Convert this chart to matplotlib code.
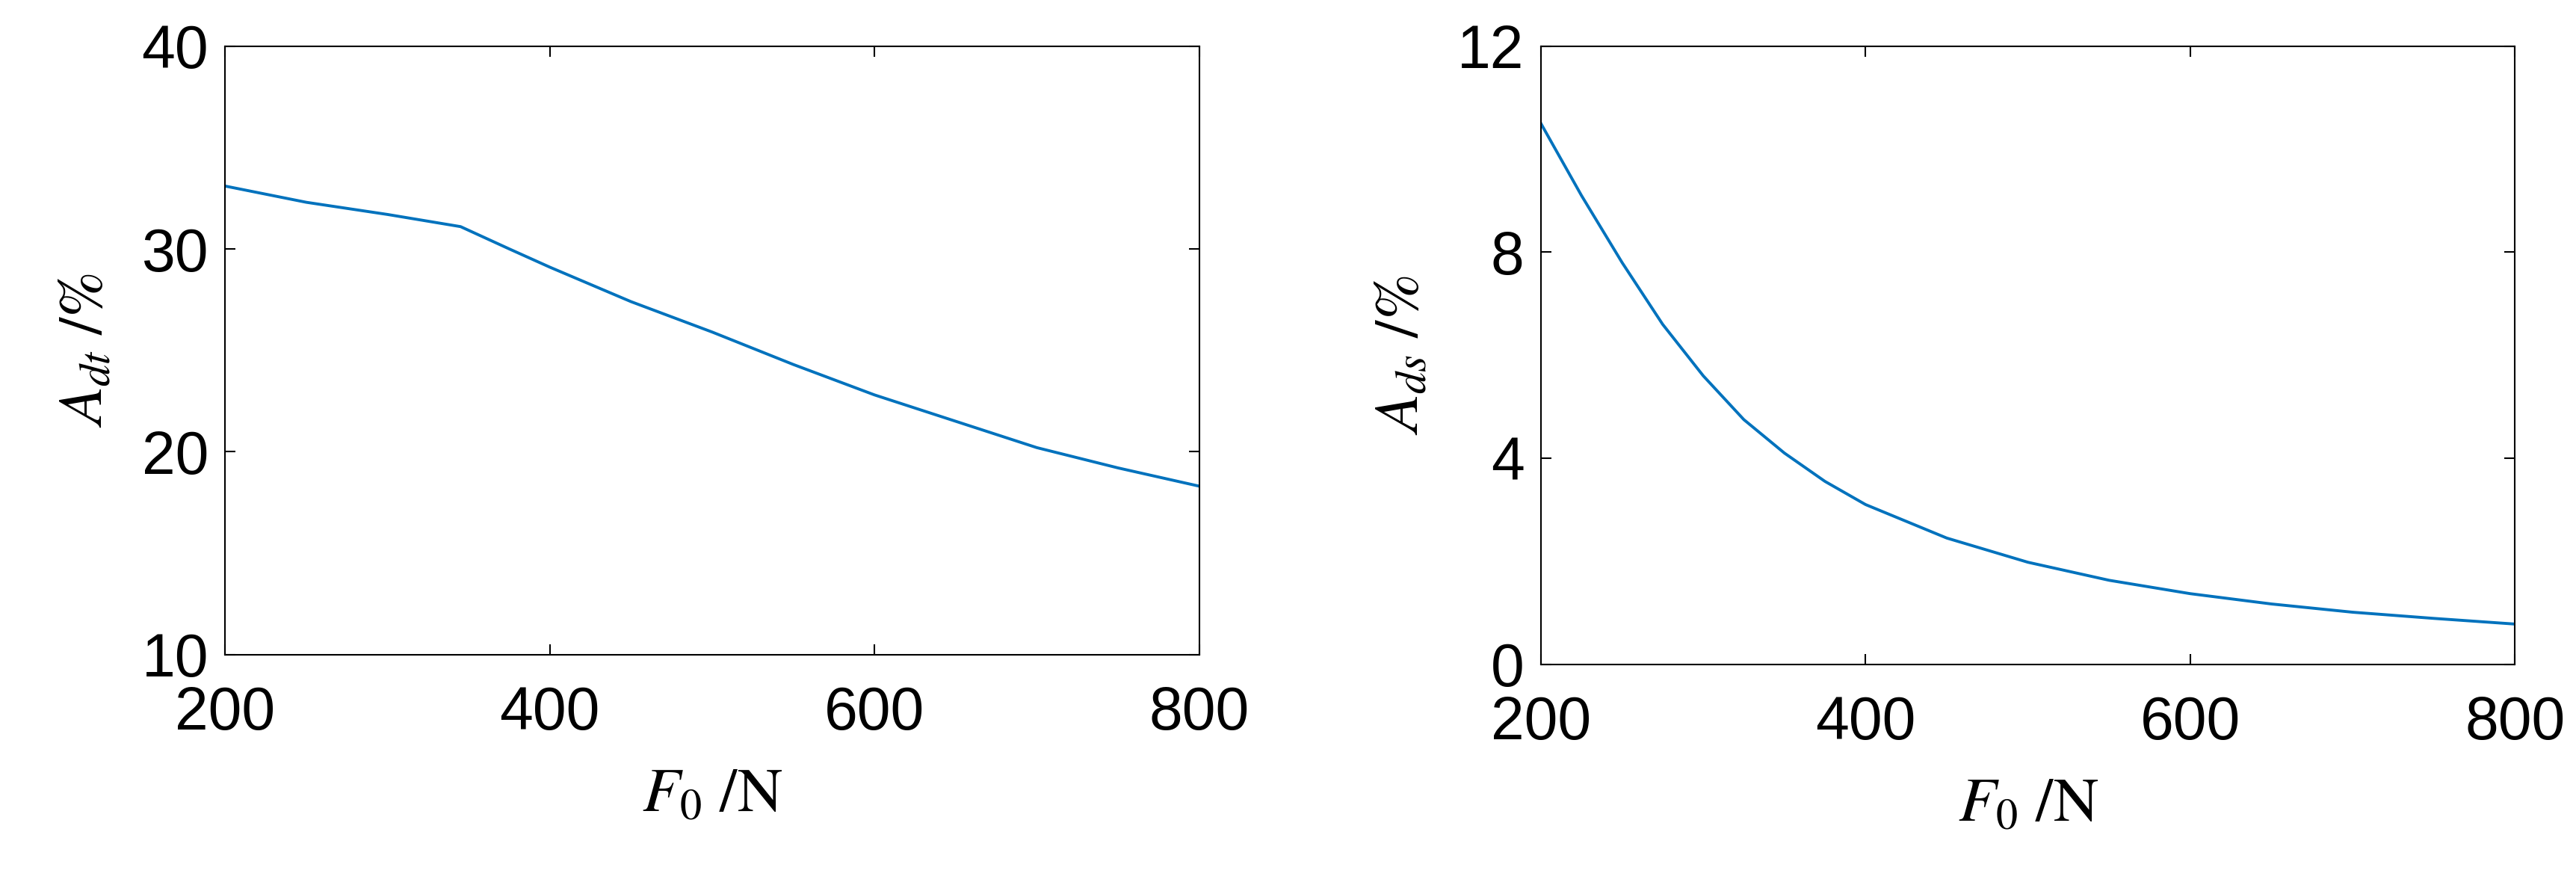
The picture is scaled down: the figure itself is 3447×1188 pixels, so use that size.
import matplotlib
matplotlib.use("Agg")
import matplotlib.pyplot as plt

plt.rcParams["mathtext.fontset"] = "stix"
plt.rcParams["font.family"] = ["Liberation Serif", "DejaVu Serif"]

# data
force = [200, 250, 300, 345, 375, 400, 450, 500, 550, 600, 650, 700, 750, 800]
a_dt = [33.1, 32.3, 31.7, 31.1, 30.0, 29.1, 27.4, 25.9, 24.3, 22.8, 21.5, 20.2, 19.2, 18.3]
force_s = [200, 225, 250, 275, 300, 325, 350, 375, 400, 450, 500, 550, 600, 650, 700, 750, 800]
a_ds = [10.5, 9.1, 7.8, 6.6, 5.6, 4.75, 4.1, 3.55, 3.1, 2.45, 1.98, 1.63, 1.37, 1.17, 1.01, 0.89, 0.78]
x_ticks = [200, 400, 600, 800]
left_y_ticks = [10, 20, 30, 40]
right_y_ticks = [0, 4, 8, 12]

LINE_COLOR = "#0072BD"
TICK_FONT = "Liberation Sans"

fig = plt.figure(figsize=(34.48, 11.88), dpi=100)
ax1 = fig.add_axes([0.0874, 0.263, 0.378, 0.685])
ax2 = fig.add_axes([0.598, 0.252, 0.378, 0.696])


def style(ax, yticks, sub):
    ax.set_xlim(200, 800)
    ax.set_ylim(yticks[0], yticks[-1])
    ax.set_xticks(x_ticks)
    ax.set_yticks(yticks)
    ax.tick_params(axis="x", pad=30)
    ax.tick_params(axis="y", pad=16)
    ax.tick_params(direction="in", length=10, width=1.5, top=True, right=True,
                   labelsize=58)
    for lab in ax.get_xticklabels() + ax.get_yticklabels():
        lab.set_fontfamily(TICK_FONT)
    for sp in ax.spines.values():
        sp.set_linewidth(1.5)
    ax.set_xlabel(r"$F_0\ /\mathrm{N}$", fontsize=60, labelpad=25)
    ax.set_ylabel(r"$A_{%s}\ /\%%$" % sub, fontsize=60, labelpad=25)


ax1.plot(force, a_dt, color=LINE_COLOR, lw=2.8)
ax2.plot(force_s, a_ds, color=LINE_COLOR, lw=2.8)
style(ax1, left_y_ticks, "dt")
style(ax2, right_y_ticks, "ds")

fig.savefig("out.png", dpi=100)
